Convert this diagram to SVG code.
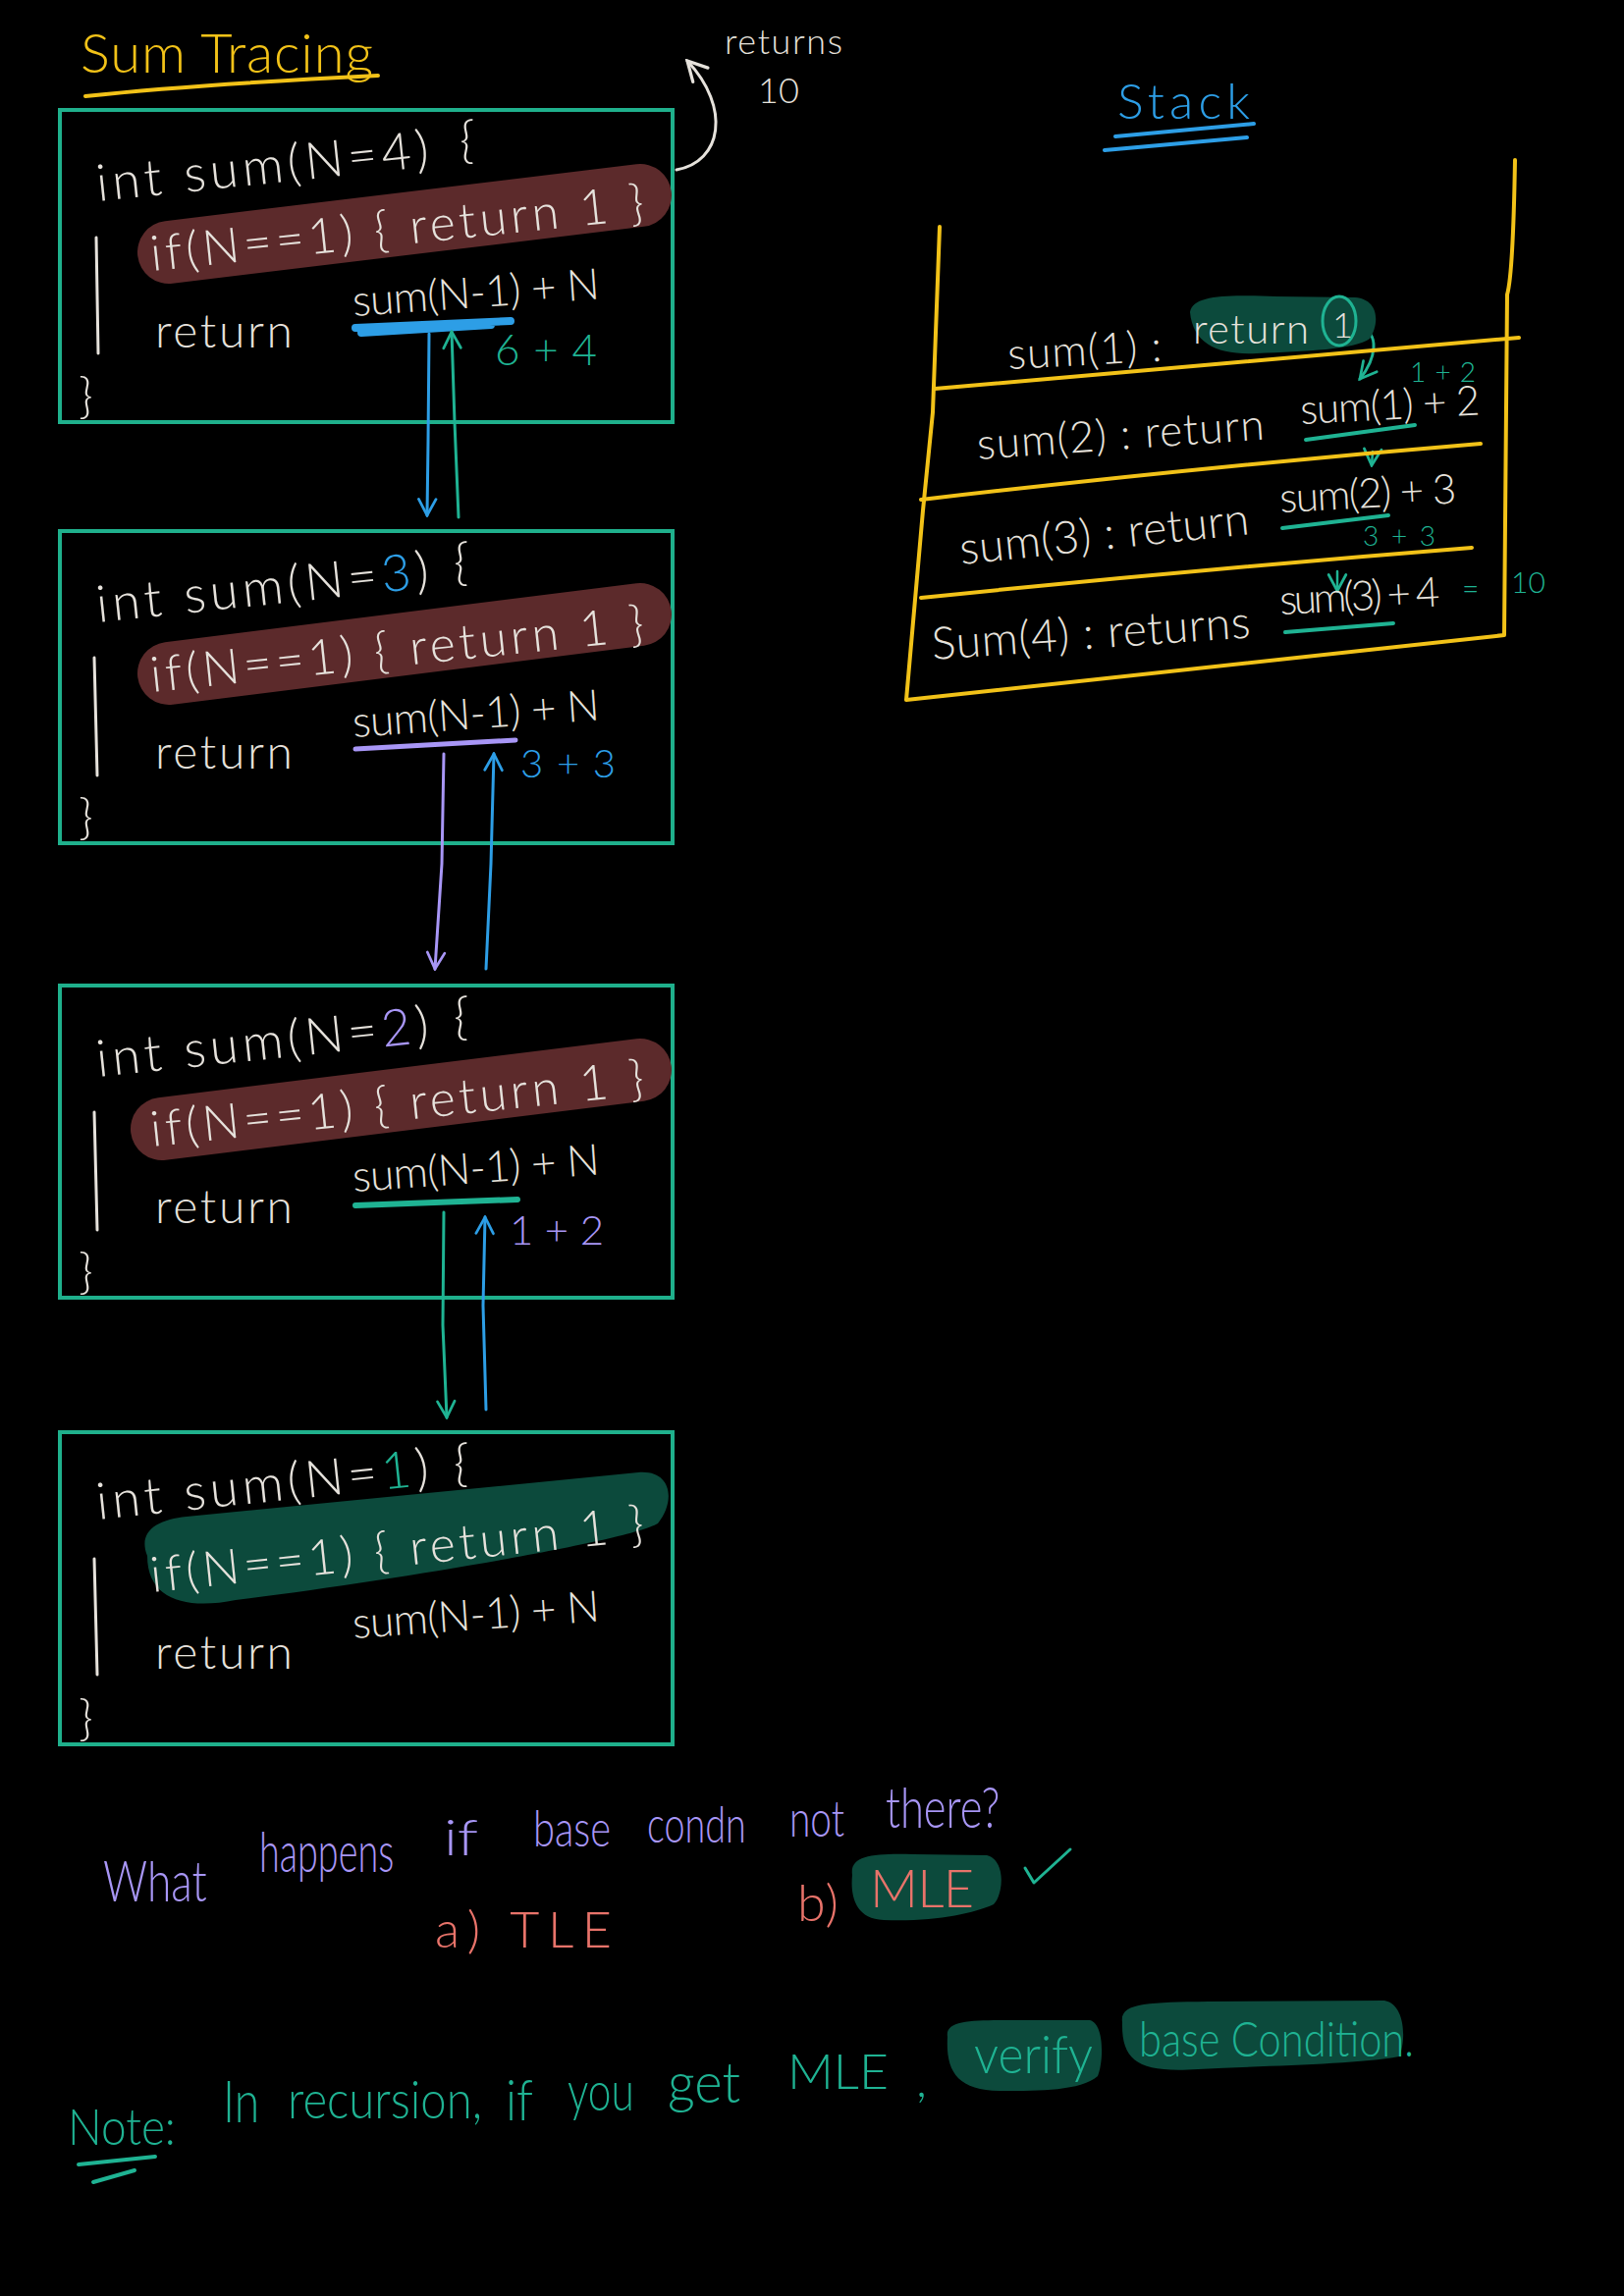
<svg xmlns="http://www.w3.org/2000/svg" width="1654" height="2339" viewBox="0 0 1654 2339">
<style>
text{font-family:Lato,"Open Sans","Liberation Sans",sans-serif;font-weight:300}
.w{fill:#e6e2dc}
.box{fill:none;stroke:#1fb08c;stroke-width:4}
.hlr{stroke:#5c2a2b;stroke-width:64;stroke-linecap:round;fill:none}
.hlg{fill:#0c4a3c}
.ln{fill:none;stroke-linecap:round;stroke-linejoin:round}
.wl{stroke:#e6e2dc;stroke-width:3}
.bl{stroke:#2d9ee6}
.tl{stroke:#1fb393}
.pl{stroke:#a896f6}
.yl{stroke:#f2c218;stroke-width:4}
.tt{fill:#1fb393}
.bt{fill:#2d9ee6}
.pt{fill:#a896f6}
.st{fill:#e8736a}
.yt{fill:#f2c218}
</style>
<defs>
<marker id="ahB" viewBox="0 0 20 20" refX="18" refY="10" markerWidth="22" markerHeight="22" markerUnits="userSpaceOnUse" orient="auto"><path d="M3,2 L18,10 L3,18" fill="none" stroke="#2d9ee6" stroke-width="2.5" stroke-linecap="round"/></marker>
<marker id="ahT" viewBox="0 0 20 20" refX="18" refY="10" markerWidth="22" markerHeight="22" markerUnits="userSpaceOnUse" orient="auto"><path d="M3,2 L18,10 L3,18" fill="none" stroke="#1fb393" stroke-width="2.5" stroke-linecap="round"/></marker>
<marker id="ahP" viewBox="0 0 20 20" refX="18" refY="10" markerWidth="22" markerHeight="22" markerUnits="userSpaceOnUse" orient="auto"><path d="M3,2 L18,10 L3,18" fill="none" stroke="#a896f6" stroke-width="2.5" stroke-linecap="round"/></marker>
<marker id="ahW" viewBox="0 0 20 20" refX="18" refY="10" markerWidth="26" markerHeight="26" markerUnits="userSpaceOnUse" orient="auto"><path d="M3,2 L18,10 L3,18" fill="none" stroke="#e6e2dc" stroke-width="2.5" stroke-linecap="round"/></marker>
</defs>
<rect width="1654" height="2339" fill="#000"/>

<g id="title">
<text x="82" y="74" font-size="56" class="yt" textLength="298">Sum Tracing</text>
<path class="ln yl" d="M87,98 Q200,86 385,77"/>
</g>

<g id="box1">
<rect class="box" x="61" y="112" width="624" height="318"/>
<path class="hlr" d="M172,257 L652,199"/>
<text x="100" y="205" font-size="52" class="w" textLength="340" transform="rotate(-6 100 205)">int sum(N=4)</text>
<text x="468" y="160" font-size="52" class="w">{</text>
<text x="155" y="276" font-size="50" class="w" textLength="505" transform="rotate(-6 155 276)">if(N==1) { return 1 }</text>
<path class="ln wl" d="M98,242 L100,360"/>
<text x="158" y="354" font-size="48" class="w" textLength="140">return</text>
<text x="360" y="322" font-size="44" class="w" textLength="252" transform="rotate(-4 360 322)">sum(N-1) + N</text>
<path class="ln bl" stroke-width="8" d="M362,334 L520,327 M368,339 L500,331"/>
<text x="80" y="420" font-size="50" class="w">}</text>
</g>

<g id="box2">
<rect class="box" x="61" y="541" width="624" height="318"/>
<path class="hlr" d="M172,686 L652,626"/>
<text x="100" y="634" font-size="52" class="w" textLength="340" transform="rotate(-6 100 634)">int sum(N=<tspan class="bt">3</tspan>)</text>
<text x="462" y="590" font-size="52" class="w">{</text>
<text x="155" y="705" font-size="50" class="w" textLength="505" transform="rotate(-6 155 705)">if(N==1) { return 1 }</text>
<path class="ln wl" d="M96,670 L99,790"/>
<text x="158" y="783" font-size="48" class="w" textLength="140">return</text>
<text x="360" y="751" font-size="44" class="w" textLength="252" transform="rotate(-4 360 751)">sum(N-1) + N</text>
<path class="ln pl" stroke-width="5" d="M362,763 L525,754"/>
<text x="80" y="849" font-size="50" class="w">}</text>
</g>

<g id="box3">
<rect class="box" x="61" y="1004" width="624" height="318"/>
<path class="hlr" d="M165,1150 L652,1090"/>
<text x="100" y="1097" font-size="52" class="w" textLength="340" transform="rotate(-6 100 1097)">int sum(N=<tspan class="pt">2</tspan>)</text>
<text x="462" y="1053" font-size="52" class="w">{</text>
<text x="155" y="1168" font-size="50" class="w" textLength="505" transform="rotate(-6 155 1168)">if(N==1) { return 1 }</text>
<path class="ln wl" d="M96,1133 L99,1253"/>
<text x="158" y="1246" font-size="48" class="w" textLength="140">return</text>
<text x="360" y="1214" font-size="44" class="w" textLength="252" transform="rotate(-4 360 1214)">sum(N-1) + N</text>
<path class="ln tl" stroke-width="6" d="M362,1228 L527,1222"/>
<text x="80" y="1312" font-size="50" class="w">}</text>
</g>

<g id="box4">
<rect class="box" x="61" y="1459" width="624" height="318"/>
<path class="hlg" d="M150,1585 C140,1560 160,1548 190,1545 L650,1500 C685,1497 688,1530 670,1552 C640,1570 400,1610 240,1630 C190,1640 150,1630 150,1585 Z"/>
<text x="100" y="1548" font-size="52" class="w" textLength="340" transform="rotate(-6 100 1548)">int sum(N=<tspan class="tt">1</tspan>)</text>
<text x="462" y="1508" font-size="52" class="w">{</text>
<text x="155" y="1622" font-size="50" class="w" textLength="505" transform="rotate(-6 155 1622)">if(N==1) { return 1 }</text>
<path class="ln wl" d="M96,1588 L99,1706"/>
<text x="158" y="1700" font-size="48" class="w" textLength="140">return</text>
<text x="360" y="1669" font-size="44" class="w" textLength="252" transform="rotate(-4 360 1669)">sum(N-1) + N</text>
<text x="80" y="1767" font-size="50" class="w">}</text>
</g>

<g id="annotations">
<text x="504" y="372" font-size="44" class="tt" textLength="104">6 + 4</text>
<text x="530" y="792" font-size="40" class="bt" textLength="97">3 + 3</text>
<text x="519" y="1268" font-size="42" class="pt" textLength="96">1 + 2</text>
<text x="738" y="55" font-size="36" class="w" textLength="120">returns</text>
<text x="772" y="105" font-size="36" class="w">10</text>
</g>

<g id="connectors">
<path class="ln bl" stroke-width="3" d="M437,340 L436,450 L435,525" marker-end="url(#ahB)"/>
<path class="ln tl" stroke-width="3" d="M467,527 L463,430 L460,338" marker-end="url(#ahT)"/>
<path class="ln pl" stroke-width="3" d="M452,768 L450,880 L443,987" marker-end="url(#ahP)"/>
<path class="ln bl" stroke-width="3" d="M495,987 L500,880 L503,768" marker-end="url(#ahB)"/>
<path class="ln tl" stroke-width="3" d="M452,1235 L451,1350 L455,1444" marker-end="url(#ahT)"/>
<path class="ln bl" stroke-width="3" d="M495,1436 L492,1330 L494,1240" marker-end="url(#ahB)"/>
<path class="ln wl" d="M689,173 C735,165 745,110 700,62" marker-end="url(#ahW)"/>
<path class="ln tl" stroke-width="3" d="M1386,335 C1405,338 1402,365 1385,386" marker-end="url(#ahT)"/>
<path class="ln tl" stroke-width="2.5" d="M1398,460 L1397,474" marker-end="url(#ahT)"/>
<path class="ln tl" stroke-width="2.5" d="M1362,582 L1362,602" marker-end="url(#ahT)"/>
</g>

<g id="stack-title">
<text x="1138" y="121" font-size="50" class="bt" textLength="135">Stack</text>
<path class="ln bl" stroke-width="4" d="M1136,139 L1277,126 M1125,153 L1270,140"/>
</g>

<g id="stack">
<path class="ln yl" d="M957,231 L950,420 L940,520 L923,713 L1532,647 L1535,300 Q1541,280 1543,163"/>
<path class="ln yl" d="M952,396 Q1250,370 1547,344"/>
<path class="ln yl" d="M938,509 Q1230,475 1508,452"/>
<path class="ln yl" d="M938,609 Q1220,580 1499,558"/>
</g>

<g id="frame-sum1">
<path class="hlg" d="M1212,318 C1215,300 1250,300 1300,302 L1380,303 C1405,305 1405,330 1395,345 C1380,356 1330,358 1280,360 C1240,362 1215,350 1212,318 Z"/>
<text x="1027" y="376" font-size="44" class="w" textLength="157" transform="rotate(-3 1027 376)">sum(1) :</text>
<text x="1215" y="350" font-size="42" class="w" textLength="118">return</text>
<ellipse cx="1364" cy="327" rx="17" ry="25" fill="none" stroke="#1fb393" stroke-width="3"/>
<text x="1357" y="344" font-size="36" class="w">1</text>
<text x="1436" y="389" font-size="28" class="tt" textLength="67">1+2</text>
</g>

<g id="frame-sum2">
<text x="996" y="468" font-size="44" class="w" textLength="293" transform="rotate(-4 996 468)">sum(2) : return</text>
<text x="1325" y="432" font-size="42" class="w" textLength="183" transform="rotate(-3 1325 432)">sum(1) + 2</text>
<path class="ln tl" stroke-width="4" d="M1330,448 L1441,433"/>
</g>

<g id="frame-sum3">
<text x="979" y="575" font-size="46" class="w" textLength="296" transform="rotate(-6 979 575)">sum(3) : return</text>
<text x="1304" y="522" font-size="42" class="w" textLength="180" transform="rotate(-3 1304 522)">sum(2) + 3</text>
<path class="ln tl" stroke-width="4" d="M1306,538 L1414,525"/>
<text x="1388" y="556" font-size="28" class="tt" textLength="74">3+3</text>
</g>

<g id="frame-sum4">
<text x="950" y="672" font-size="46" class="w" textLength="325" transform="rotate(-4 950 672)">Sum(4) : returns</text>
<text x="1304" y="626" font-size="42" class="w" textLength="163" transform="rotate(-3 1304 626)">sum(3) + 4</text>
<path class="ln tl" stroke-width="4" d="M1309,644 L1419,635"/>
<text x="1489" y="610" font-size="30" class="tt">=</text>
<text x="1539" y="604" font-size="30" class="tt">10</text>
</g>

<g id="question">
<text font-size="58" class="pt" textLength="151" lengthAdjust="spacingAndGlyphs" transform="translate(105 1937) scale(0.7 1)">What</text>
<text font-size="58" class="pt" textLength="196" lengthAdjust="spacingAndGlyphs" transform="translate(264 1907) scale(0.7 1)">happens</text>
<text font-size="52" class="pt" textLength="50" lengthAdjust="spacingAndGlyphs" transform="translate(452 1890) scale(0.7 1)">if</text>
<text font-size="52" class="pt" textLength="113" lengthAdjust="spacingAndGlyphs" transform="translate(543 1881) scale(0.7 1)">base</text>
<text font-size="52" class="pt" textLength="144" lengthAdjust="spacingAndGlyphs" transform="translate(659 1877) scale(0.7 1)">condn</text>
<text font-size="52" class="pt" textLength="80" lengthAdjust="spacingAndGlyphs" transform="translate(804 1871) scale(0.7 1)">not</text>
<text font-size="58" class="pt" textLength="166" lengthAdjust="spacingAndGlyphs" transform="translate(902 1862) scale(0.7 1)">there?</text>
<text x="443" y="1984" font-size="52" class="st" textLength="180">a) TLE</text>
<text x="812" y="1957" font-size="52" class="st" textLength="42">b)</text>
<path class="hlg" d="M868,1910 C865,1890 890,1888 930,1889 L1005,1890 C1025,1895 1022,1930 1012,1940 C990,1950 950,1958 900,1956 C870,1955 866,1930 868,1910 Z"/>
<text x="886" y="1943" font-size="54" class="st" textLength="106">MLE</text>
<path class="ln tl" stroke-width="3" d="M1044,1903 L1053,1918 L1090,1884"/>
</g>

<g id="note">
<text font-size="52" class="tt" textLength="157" lengthAdjust="spacingAndGlyphs" transform="translate(69 2185) scale(0.7 1)">Note:</text>
<path class="ln tl" stroke-width="4" d="M80,2205 L158,2197 M95,2223 L137,2211"/>
<text font-size="60" class="tt" textLength="53" lengthAdjust="spacingAndGlyphs" transform="translate(227 2162) scale(0.7 1)">In</text>
<text font-size="54" class="tt" textLength="283" lengthAdjust="spacingAndGlyphs" transform="translate(293 2158) scale(0.7 1)">recursion,</text>
<text font-size="58" class="tt" textLength="40" lengthAdjust="spacingAndGlyphs" transform="translate(515 2160) scale(0.7 1)">if</text>
<text font-size="56" class="tt" textLength="97" lengthAdjust="spacingAndGlyphs" transform="translate(578 2150) scale(0.7 1)">you</text>
<text font-size="58" class="tt" textLength="106" lengthAdjust="spacingAndGlyphs" transform="translate(680 2142) scale(0.7 1)">get</text>
<text font-size="50" class="tt" textLength="147" lengthAdjust="spacingAndGlyphs" transform="translate(802 2128) scale(0.7 1)">MLE</text>
<text x="933" y="2136" font-size="50" class="tt">,</text>
<path class="hlg" d="M965,2075 C962,2058 990,2058 1030,2058 L1110,2058 C1125,2062 1124,2100 1118,2115 C1100,2130 1060,2130 1020,2130 C975,2130 963,2110 965,2075 Z"/>
<text font-size="54" class="tt" textLength="173" lengthAdjust="spacingAndGlyphs" transform="translate(992 2112) scale(0.7 1)">verify</text>
<path class="hlg" d="M1143,2060 C1140,2040 1170,2040 1230,2039 L1410,2038 C1432,2042 1432,2080 1425,2095 C1380,2103 1300,2104 1220,2108 C1160,2112 1142,2100 1143,2060 Z"/>
<text font-size="50" class="tt" textLength="400" lengthAdjust="spacingAndGlyphs" transform="translate(1160 2095) scale(0.7 1)">base Condition.</text>
</g>
</svg>
